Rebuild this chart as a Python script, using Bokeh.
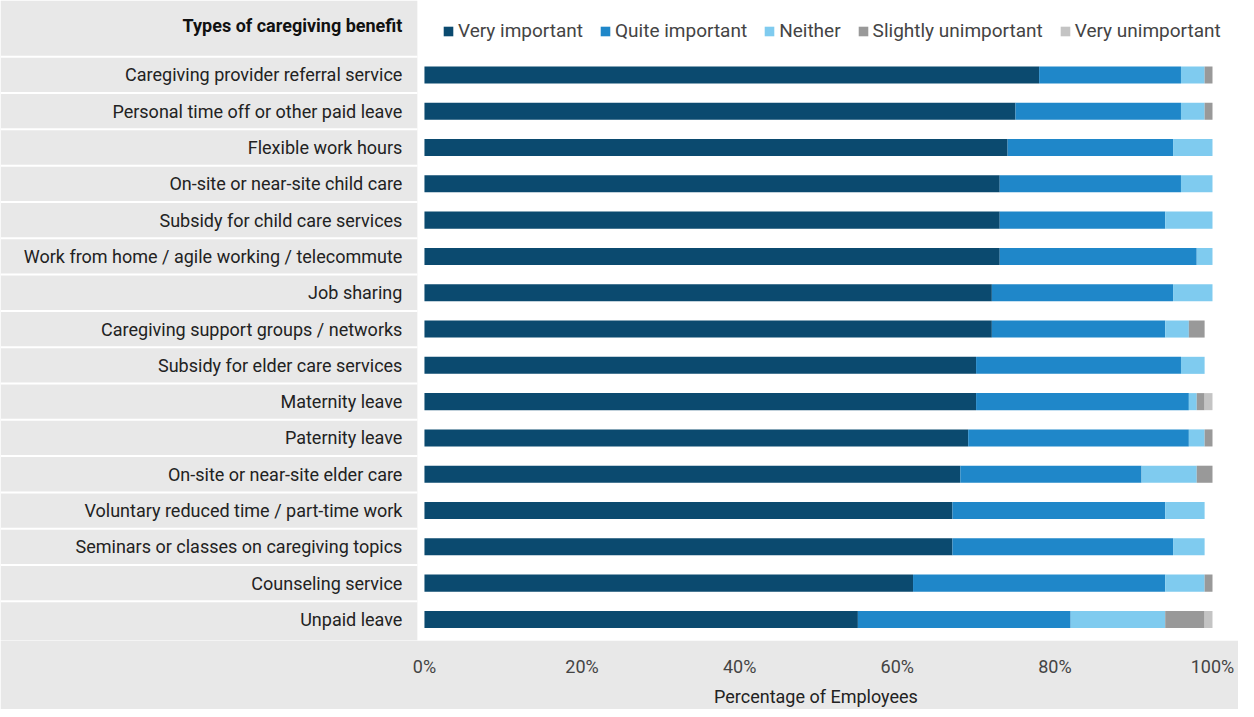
from bokeh.plotting import figure
from bokeh.models import ColumnDataSource, Range1d, FixedTicker, PrintfTickFormatter, Legend, LegendItem
from bokeh.core.properties import value
from bokeh.embed import file_html
from bokeh.resources import INLINE

benefits = [
    "Caregiving provider referral service",
    "Personal time off or other paid leave",
    "Flexible work hours",
    "On-site or near-site child care",
    "Subsidy for child care services",
    "Work from home / agile working / telecommute",
    "Job sharing",
    "Caregiving support groups / networks",
    "Subsidy for elder care services",
    "Maternity leave",
    "Paternity leave",
    "On-site or near-site elder care",
    "Voluntary reduced time / part-time work",
    "Seminars or classes on caregiving topics",
    "Counseling service",
    "Unpaid leave",
]
very_important = [78, 75, 74, 73, 73, 73, 72, 72, 70, 70, 69, 68, 67, 67, 62, 55]
quite_important = [18, 21, 21, 23, 21, 25, 23, 22, 26, 27, 28, 23, 27, 28, 32, 27]
neither = [3, 3, 5, 4, 6, 2, 5, 3, 3, 1, 2, 7, 5, 4, 5, 12]
slightly_unimportant = [1, 1, 0, 0, 0, 0, 0, 2, 0, 1, 1, 2, 0, 0, 1, 5]
very_unimportant = [0, 0, 0, 0, 0, 0, 0, 0, 0, 1, 0, 0, 0, 0, 0, 1]

series = ["Very important", "Quite important", "Neither", "Slightly unimportant", "Very unimportant"]
keys = ["vi", "qi", "ne", "su", "vu"]
colors = ["#0b4a6f", "#1f87c9", "#7fcbef", "#999999", "#c4c4c4"]

FONT = "Roboto"
GREY = "#e8e8e8"
FS = "18px"

src = ColumnDataSource(dict(
    y=[-i for i in range(len(benefits))], label=benefits,
    vi=very_important, qi=quite_important, ne=neither,
    su=slightly_unimportant, vu=very_unimportant,
))

p = figure(width=1238, height=709, output_backend="svg", toolbar_location=None,
           x_range=Range1d(-53.8, 103.3), y_range=Range1d(-15.58, 2.05),
           min_border_left=0, min_border_right=0, min_border_top=0, min_border_bottom=0)
p.border_fill_color = GREY
p.background_fill_color = "white"
p.outline_line_color = None
p.grid.visible = False
p.yaxis.visible = False

# left label panel
p.quad(left=-53.8, right=-0.9, bottom=-15.58, top=2.05, fill_color=GREY, line_color=None)
seps = [-i - 0.5 for i in range(-1, len(benefits) - 1)]
p.segment(x0=-53.8, x1=-0.9, y0=seps, y1=seps, line_color="white", line_width=2)

renderers = p.hbar_stack(keys, y="y", height=0.47, color=colors, source=src, line_color=None)

p.text(x=-2.8, y="y", text="label", source=src, text_align="right", text_baseline="middle",
       text_font=value(FONT), text_font_size=FS, text_color="#222222")
p.text(x=[-2.8], y=[1.36], text=["Types of caregiving benefit"], text_align="right",
       text_baseline="middle", text_font=value(FONT), text_font_size=FS,
       text_font_style="bold", text_color="#111111")

legend = Legend(items=[LegendItem(label=s, renderers=[r]) for s, r in zip(series, renderers)],
                orientation="horizontal", location=(442, 598), background_fill_alpha=0,
                border_line_color=None, label_text_font=FONT, label_text_font_size="19px",
                glyph_width=12, glyph_height=12, spacing=16, label_standoff=4, padding=0,
                margin=0)
p.add_layout(legend)

p.xaxis.ticker = FixedTicker(ticks=[0, 20, 40, 60, 80, 100])
p.xaxis.formatter = PrintfTickFormatter(format="%d%%")
p.xaxis.axis_line_color = None
p.xaxis.major_tick_line_color = None
p.xaxis.minor_tick_line_color = None
p.xaxis.major_label_text_font = FONT
p.xaxis.major_label_text_font_size = FS
p.xaxis.major_label_standoff = 9
# shift the centred axis label over the 0-100% span
p.xaxis.axis_label = "\u00a0" * 88 + "Percentage of Employees"
p.xaxis.axis_label_text_font = FONT
p.xaxis.axis_label_text_font_size = FS
p.xaxis.axis_label_text_font_style = "normal"
p.xaxis.axis_label_text_color = "#222222"
p.xaxis.axis_label_standoff = 6

open("out.html", "w").write(file_html(p, INLINE))
